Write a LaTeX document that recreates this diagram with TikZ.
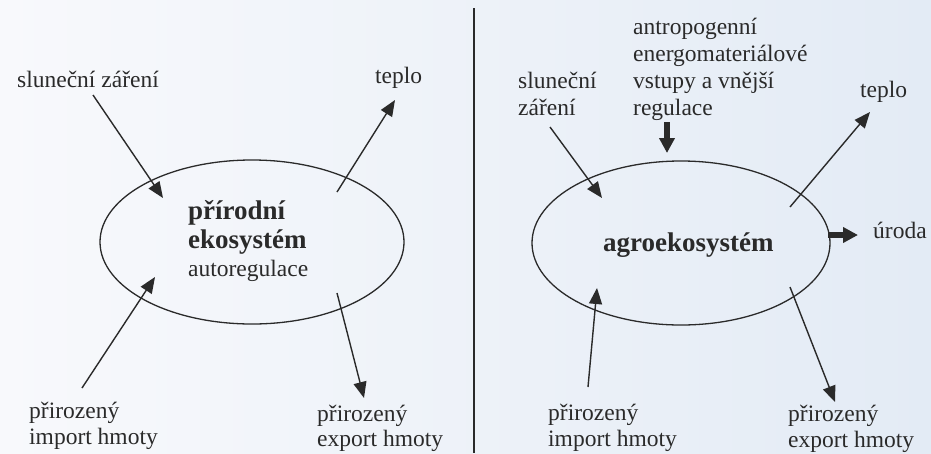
\documentclass[tikz,border=0pt]{standalone}
\usepackage{fontspec}
\setmainfont{Liberation Serif}
\usetikzlibrary{shapes.geometric,arrows.meta}
\definecolor{ink}{HTML}{2A2A2A}
\definecolor{bgL}{HTML}{F8F9FC}
\definecolor{bgR}{HTML}{E3EBF5}
\tikzset{
  lbl/.style={anchor=base west, inner sep=0pt, text=ink, font=\fontsize{23.5}{27}\selectfont},
  bld/.style={anchor=base west, inner sep=0pt, text=ink, font=\fontsize{27}{29}\selectfont\bfseries},
  eco/.style={ellipse, draw=ink, line width=1.3pt, inner sep=0pt},
  arr/.style={draw=ink, line width=1.4pt, -{Triangle[length=16pt,width=13pt]}},
  fat/.style={draw=ink, line width=5.5pt, -{Triangle[length=15pt,width=15pt]}},
}
\begin{document}
\begin{tikzpicture}[x=1pt,y=-1pt]
\shade[left color=bgL, right color=bgR] (0,0) rectangle (931,453);
\useasboundingbox (0,0) rectangle (931,453);
% divider
\draw[ink, line width=1.3pt] (474,8) -- (474,453);

% ---------- left: natural ecosystem ----------
\node[eco, minimum width=304pt, minimum height=164pt] (E1) at (252,242) {};
\node[bld] (t1a) at (188,219) {přírodní};
\node[bld] (t1b) at (188,248) {ekosystém};
\node[lbl] (t1c) at (188,276) {autoregulace};

\node[lbl] (sl1) at (17,87) {sluneční záření};
\node[lbl] (tp1) at (375,83) {teplo};
\node[lbl] (im1a) at (29,418) {přirozený};
\node[lbl] (im1b) at (29,444) {import hmoty};
\node[lbl] (ex1a) at (317,421) {přirozený};
\node[lbl] (ex1b) at (317,446) {export hmoty};

\coordinate (sl1s) at (93,95);   \coordinate (sl1e) at (163,198);
\coordinate (tp1s) at (337,192); \coordinate (tp1e) at (395,100);
\coordinate (im1s) at (82,388);  \coordinate (im1e) at (155,277);
\coordinate (ex1s) at (337,293); \coordinate (ex1e) at (364,398);
\draw[arr] (sl1s) -- (sl1e);
\draw[arr] (tp1s) -- (tp1e);
\draw[arr] (im1s) -- (im1e);
\draw[arr] (ex1s) -- (ex1e);

% ---------- right: agroecosystem ----------
\node[eco, minimum width=298pt, minimum height=164pt] (E2) at (681,243) {};
\node[bld] (t2) at (603,251) {agroekosystém};

\node[lbl] (sl2a) at (518,88) {sluneční};
\node[lbl] (sl2b) at (518,115) {záření};
\node[lbl] (an1) at (633,34) {antropogenní};
\node[lbl] (an2) at (633,61) {energomateriálové};
\node[lbl] (an3) at (633,88) {vstupy a vnější};
\node[lbl] (an4) at (633,115) {regulace};
\node[lbl] (tp2) at (860,97) {teplo};
\node[lbl] (ur) at (873,238) {úroda};
\node[lbl] (im2a) at (548,420) {přirozený};
\node[lbl] (im2b) at (548,446) {import hmoty};
\node[lbl] (ex2a) at (788,421) {přirozený};
\node[lbl] (ex2b) at (788,447) {export hmoty};

\coordinate (sl2s) at (550,127); \coordinate (sl2e) at (602,198);
\coordinate (ans) at (667,122);  \coordinate (ane) at (667,153);
\coordinate (tp2s) at (790,207); \coordinate (tp2e) at (870,112);
\coordinate (urs) at (828,235);  \coordinate (ure) at (858,235);
\coordinate (im2s) at (588,387); \coordinate (im2e) at (597,288);
\coordinate (ex2s) at (790,287); \coordinate (ex2e) at (835,402);
\draw[arr] (sl2s) -- (sl2e);
\draw[fat] (ans) -- (ane);
\draw[arr] (tp2s) -- (tp2e);
\draw[fat] (urs) -- (ure);
\draw[arr] (im2s) -- (im2e);
\draw[arr] (ex2s) -- (ex2e);
\end{tikzpicture}
\end{document}
